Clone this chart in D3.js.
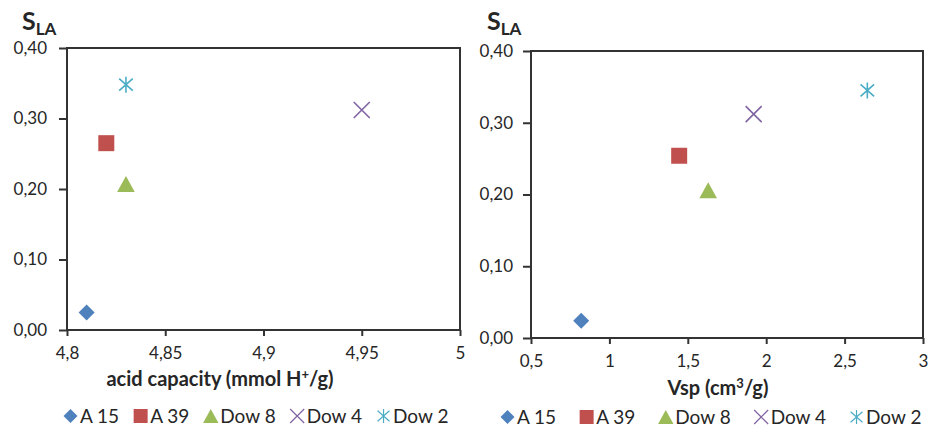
<!DOCTYPE html>
<html><head><meta charset="utf-8">
<script src="https://cdn.jsdelivr.net/npm/d3@7/dist/d3.min.js"></script>
<style>body{margin:0;background:#fff}svg{display:block}text{font-family:Lato,"Open Sans",sans-serif;fill:#262626}</style>
</head><body>
<svg id="c" width="930" height="429"></svg>
<script>
const series = ["A 15", "A 39", "Dow 8", "Dow 4", "Dow 2"];
const colors = ["#4f81bd", "#c0504d", "#9bbb59", "#8064a2", "#4bacc6"];
const shapes = ["diamond", "square", "triangle", "times", "asterisk"];
const sla = [0.025, 0.265, 0.207, 0.312, 0.348];
const acidCapacity = [4.81, 4.82, 4.83, 4.95, 4.83];
const slaVsp = [0.024, 0.254, 0.206, 0.312, 0.345];
const vsp = [0.82, 1.445, 1.63, 1.92, 2.645];
const yTicks = [0, 0.1, 0.2, 0.3, 0.4];
const xTicksLeft = [4.8, 4.85, 4.9, 4.95, 5];
const xTicksRight = [0.5, 1, 1.5, 2, 2.5, 3];

const svg = d3.select("#c");
const fmt = v => String(+v.toFixed(2)).replace(".", ",");
const fmtY = v => v.toFixed(2).replace(".", ",");

function markerPath(shape, s) {
  const h = s / 2;
  switch (shape) {
    case "diamond": return `M0,${-h}L${h},0L0,${h}L${-h},0Z`;
    case "square": return `M${-h},${-h}H${h}V${h}H${-h}Z`;
    case "triangle": return `M0,${-h}L${h*1.1},${h}L${-h*1.1},${h}Z`;
    case "times": return `M${-h},${-h}L${h},${h}M${h},${-h}L${-h},${h}`;
    case "asterisk": return `M${-h*0.85},${-h*0.75}L${h*0.85},${h*0.75}M${h*0.85},${-h*0.75}L${-h*0.85},${h*0.75}M0,${-h}V${h}`;
  }
}
function drawMarker(g, shape, color, s, sw) {
  const filled = !(shape === "times" || shape === "asterisk");
  g.append("path").attr("d", markerPath(shape, s))
    .attr("fill", filled ? color : "none")
    .attr("stroke", color).attr("stroke-width", filled ? 0 : sw);
}

function panel(cfg) {
  const x = d3.scaleLinear().domain(cfg.xDomain).range([cfg.left, cfg.right]);
  const y = d3.scaleLinear().domain([0, 0.4]).range([cfg.bottom, cfg.top]);
  const g = svg.append("g");
  g.append("rect").attr("x", cfg.left).attr("y", cfg.top)
    .attr("width", cfg.right - cfg.left).attr("height", cfg.bottom - cfg.top)
    .attr("fill", "none").attr("stroke", "#333").attr("stroke-width", 2);
  const ya = g.append("g").attr("transform", `translate(${cfg.left},0)`)
    .call(d3.axisLeft(y).tickValues(yTicks).tickFormat(fmtY).tickSize(8).tickPadding(cfg.yPad));
  const xa = g.append("g").attr("transform", `translate(0,${cfg.bottom})`)
    .call(d3.axisBottom(x).tickValues(cfg.xTicks).tickFormat(fmt).tickSize(6).tickPadding(11));
  [ya, xa].forEach(a => {
    a.select(".domain").remove();
    a.selectAll(".tick line").attr("stroke", "#333").attr("stroke-width", 2);
    a.selectAll(".tick text").style("font-size", "17px").attr("fill", "#262626");
  });
  series.forEach((s, i) => {
    const m = g.append("g").attr("transform", `translate(${x(cfg.xs[i])},${y(cfg.ys[i])})`);
    drawMarker(m, shapes[i], colors[i], 16, 1.6);
  });
  const t = g.append("text").attr("x", cfg.titleX).attr("y", 30)
    .style("font-weight", "bold");
  t.append("tspan").text("S").style("font-size", "25px");
  t.append("tspan").text("LA").style("font-size", "17px").attr("dy", 5);
  g.append("text").attr("x", cfg.xTitleX).attr("y", cfg.xTitleY).attr("text-anchor", "middle")
    .style("font-weight", "bold").style("font-size", "20px").html(cfg.xTitle);
  let lx = cfg.legX;
  series.forEach((s, i) => {
    const m = g.append("g").attr("transform", `translate(${lx + 7.5},${cfg.legY - 7})`);
    drawMarker(m, shapes[i], colors[i], 14, 1.2);
    const tx = g.append("text").attr("x", lx + 17).attr("y", cfg.legY)
      .style("font-size", "19px").text(s);
    lx += 17 + tx.node().getComputedTextLength() + cfg.legGap;
  });
}

panel({xDomain: [4.8, 5], left: 67, right: 460, top: 48, bottom: 330, xTicks: xTicksLeft,
  xs: acidCapacity, ys: sla, yPad: 12, titleX: 22,
  xTitle: "acid capacity (mmol H<tspan dy='-7' font-size='13'>+</tspan><tspan dy='7'>/g)</tspan>",
  xTitleX: 220, xTitleY: 386, legX: 63, legY: 423, legGap: 14});
panel({xDomain: [0.5, 3], left: 531, right: 923, top: 51, bottom: 338, xTicks: xTicksRight,
  xs: vsp, ys: slaVsp, yPad: 10, titleX: 487,
  xTitle: "Vsp (cm<tspan dy='-7' font-size='13'>3</tspan><tspan dy='7'>/g)</tspan>",
  xTitleX: 718, xTitleY: 395, legX: 500, legY: 424, legGap: 23});
</script>
</body></html>
